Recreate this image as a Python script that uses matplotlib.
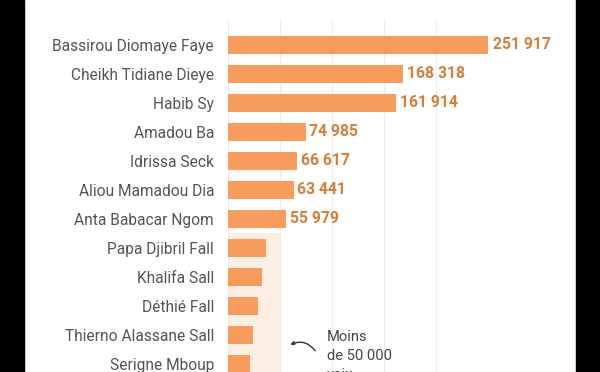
import matplotlib.pyplot as plt
from matplotlib.patches import Rectangle

names = ["Bassirou Diomaye Faye", "Cheikh Tidiane Dieye", "Habib Sy", "Amadou Ba",
         "Idrissa Seck", "Aliou Mamadou Dia", "Anta Babacar Ngom", "Papa Djibril Fall",
         "Khalifa Sall", "Déthié Fall", "Thierno Alassane Sall", "Serigne Mboup"]
votes = [251917, 168318, 161914, 74985, 66617, 63441, 55979, 36500, 32900, 28400, 23600, 21000]
shown = ["251 917", "168 318", "161 914", "74 985", "66 617", "63 441", "55 979"]
gridvals = [0, 50000, 100000, 150000, 200000, 250000]

plt.rcParams["font.family"] = ["Roboto", "DejaVu Sans"]

fig = plt.figure(figsize=(6, 3.72), dpi=100)
fig.patch.set_facecolor("white")
ax = fig.add_axes([228 / 600, 0, 260 / 600, 352 / 372])

ypos = list(range(len(names)))
ax.barh(ypos, votes, height=0.6, color="#f89c5e", zorder=3)

# pale band behind the candidates under 50 000
ax.axvspan(0, 50000, ymin=0, ymax=(11.276 - 6.5) / (11.276 + 0.862), color="#fdeee3", zorder=1, lw=0)

for x in gridvals:
    ax.axvline(x, color="#ebebeb", lw=0.8, zorder=2)

for i, s in enumerate(shown):
    ax.annotate(s, (votes[i], i), xytext=(2.5, 0), textcoords="offset points",
                va="center", ha="left", fontsize=11.3, fontweight="bold",
                color="#d77f3a", annotation_clip=False)

ax.set_xlim(0, 250000)
ax.set_ylim(11.276, -0.862)
ax.set_yticks(ypos)
ax.set_yticklabels(names, fontsize=11.2, color="#555555")
ax.set_xticks([])
ax.tick_params(axis="y", length=0, pad=10)
for sp in ax.spines.values():
    sp.set_visible(False)
ax.set_facecolor("white")

ax.text(95000, 9.83, "Moins\nde 50 000\nvoix", fontsize=10.6, color="#444444",
        va="top", ha="left", linespacing=1.45)
ax.annotate("", xy=(57500, 10.38), xytext=(85500, 10.62),
            arrowprops=dict(arrowstyle="-|>", color="#333333", lw=1,
                            mutation_scale=5, connectionstyle="arc3,rad=0.45"))

fig.patches.append(Rectangle((0, 0), 24 / 600, 1, transform=fig.transFigure, color="black", zorder=10))
fig.patches.append(Rectangle((576 / 600, 0), 24 / 600, 1, transform=fig.transFigure, color="black", zorder=10))

fig.savefig("out.png", dpi=100)
